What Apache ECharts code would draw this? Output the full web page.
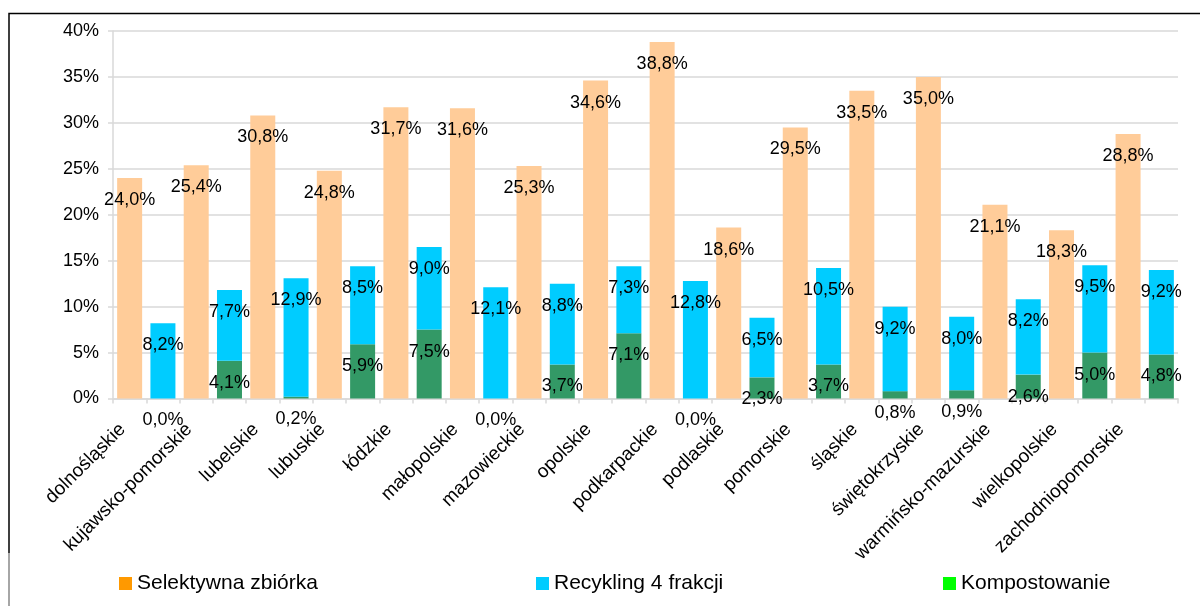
<!DOCTYPE html>
<html>
<head>
<meta charset="utf-8">
<script src="https://cdn.jsdelivr.net/npm/echarts@6/dist/echarts.min.js"></script>
<style>
html,body{margin:0;padding:0;background:#fff;}
#chart{width:1200px;height:606px;}
</style>
</head>
<body>
<div id="chart"></div>
<script>
const regions = ['dolnośląskie','kujawsko-pomorskie','lubelskie','lubuskie','łódzkie','małopolskie','mazowieckie','opolskie','podkarpackie','podlaskie','pomorskie','śląskie','świętokrzyskie','warmińsko-mazurskie','wielkopolskie','zachodniopomorskie'];
const selective = [24.0,25.4,30.8,24.8,31.7,31.6,25.3,34.6,38.8,18.6,29.5,33.5,35.0,21.1,18.3,28.8];
const recycling = [8.2,7.7,12.9,8.5,9.0,12.1,8.8,7.3,12.8,6.5,10.5,9.2,8.0,8.2,9.5,9.2];
const composting = [0.0,4.1,0.2,5.9,7.5,0.0,3.7,7.1,0.0,2.3,3.7,0.8,0.9,2.6,5.0,4.8];
const seriesNames = ['Selektywna zbiórka','Recykling 4 frakcji','Kompostowanie'];
const yMin = 0, yMax = 40, yStep = 5;

// two slots per region: even slot = selective bar, odd slot = stacked bar
const slots = [];
const selData = [], recData = [], compData = [];
regions.forEach((r, i) => {
  slots.push(r, '_' + i);
  selData.push(selective[i], '-');
  recData.push('-', recycling[i]);
  compData.push('-', composting[i]);
});

const FONT = 'Liberation Sans, Arial, sans-serif';
const fmt = p => p.value.toFixed(1).replace('.', ',') + '%';
const lbl = {show:true, position:'insideTop', distance:13, color:'#000', fontSize:18, fontFamily:FONT, formatter:fmt};
const legendText = {fontSize:21, color:'#000', fontFamily:FONT};

const chart = echarts.init(document.getElementById('chart'), null, {renderer:'canvas'});
chart.setOption({
  animation:false,
  backgroundColor:'#fff',
  textStyle:{fontFamily:FONT},
  grid:{left:113, right:22, top:31, bottom:207.5, containLabel:false, outerBoundsMode:'none'},
  xAxis:{
    type:'category', data:slots,
    axisLine:{lineStyle:{color:'#d9d9d9', width:1.5}},
    axisTick:{show:true, length:5, lineStyle:{color:'#d9d9d9', width:1.5}},
    axisLabel:{interval:0, rotate:45, margin:21, padding:[0,10,0,0], fontSize:19, color:'#000', fontFamily:FONT,
      formatter:v => v.charAt(0) === '_' ? '' : v}
  },
  yAxis:{
    type:'value', min:yMin, max:yMax, interval:yStep,
    axisLine:{show:true, lineStyle:{color:'#d9d9d9', width:1.5}},
    axisTick:{show:true, length:5, lineStyle:{color:'#d9d9d9', width:1.5}},
    splitLine:{lineStyle:{color:'#d9d9d9', width:1.5}},
    axisLabel:{margin:14, fontSize:18, color:'#000', fontFamily:FONT, formatter:'{value}%'}
  },
  legend:[
    {data:[{name:seriesNames[0], itemStyle:{color:'#FF9900'}}], left:119, top:573, padding:0, itemWidth:13, itemHeight:13, icon:'rect', selectedMode:false, textStyle:legendText},
    {data:[{name:seriesNames[1], itemStyle:{color:'#00CCFF'}}], left:536, top:573, padding:0, itemWidth:13, itemHeight:13, icon:'rect', selectedMode:false, textStyle:legendText},
    {data:[{name:seriesNames[2], itemStyle:{color:'#00FF00'}}], left:943, top:573, padding:0, itemWidth:13, itemHeight:13, icon:'rect', selectedMode:false, textStyle:legendText}
  ],
  series:[
    {name:seriesNames[0], type:'bar', stack:'all', barWidth:25, data:selData, itemStyle:{color:'#FFCC99'}, label:lbl},
    {name:seriesNames[2], type:'bar', stack:'all', barWidth:25, data:compData, itemStyle:{color:'#339966'}, label:lbl},
    {name:seriesNames[1], type:'bar', stack:'all', barWidth:25, data:recData, itemStyle:{color:'#00CCFF'}, label:lbl}
  ],
  graphic:[
    {type:'polyline', silent:true, shape:{points:[[9,553],[9,13.5],[1200,13.5]]}, style:{stroke:'#000', lineWidth:1.5, fill:null}},
    {type:'line', silent:true, shape:{x1:9, y1:553, x2:9, y2:606}, style:{stroke:'#888', lineWidth:1.5}}
  ]
});
</script>
</body>
</html>
